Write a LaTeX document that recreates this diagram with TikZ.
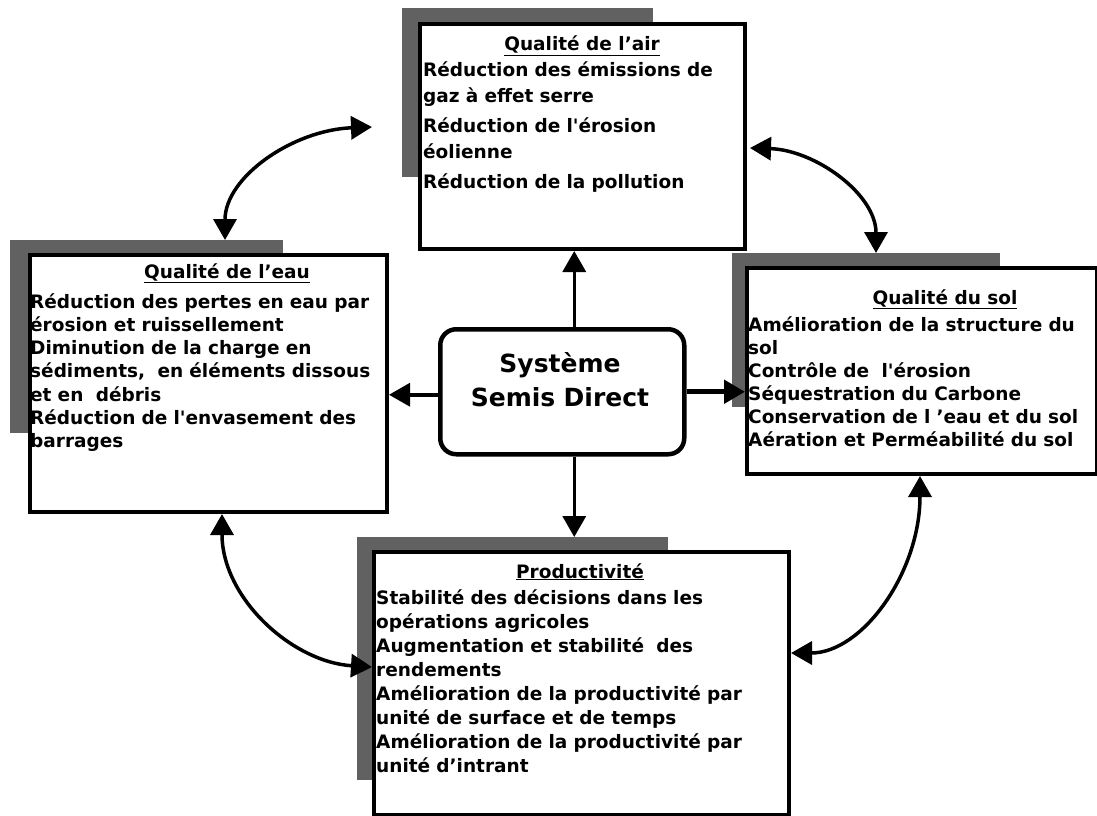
\documentclass[tikz,border=0pt]{standalone}
\usepackage{fontspec}
\setmainfont{DejaVu Sans}[Ligatures=TeXOff]
\usetikzlibrary{arrows.meta,calc}
\begin{document}
\begin{tikzpicture}[x=1pt,y=-1pt,
  shadowbox/.style={fill=black!62,anchor=north west,inner sep=0pt,outer sep=0pt},
  bigbox/.style={draw=black,line width=4pt,fill=white,anchor=north west,inner sep=0pt},
  boxtext/.style={anchor=base west,inner sep=0pt,text width=430pt,align=left,font=\bfseries\fontsize{18.5}{#1}\selectfont},
  boxtitle/.style={anchor=base,inner sep=0pt,font=\bfseries\fontsize{18.5}{22}\selectfont},
  tip/.style={Triangle[length=21pt,width=23pt]},
  link/.style={line width=3.5pt,-{Triangle[length=21pt,width=23pt]}},
  dlink/.style={line width=3.5pt,{Triangle[length=21pt,width=23pt]}-{Triangle[length=21pt,width=23pt]}},
]
\useasboundingbox (0,0) rectangle (1097,816);

% shadows
\node[shadowbox,minimum width=251pt,minimum height=169pt] (airsh) at (402,8) {};
\node[shadowbox,minimum width=273pt,minimum height=193pt] (eaush) at (10,240) {};
\node[shadowbox,minimum width=268pt,minimum height=154pt] (solsh) at (732,253) {};
\node[shadowbox,minimum width=311pt,minimum height=243pt] (prodsh) at (357,537) {};

% boxes
\node[bigbox,minimum width=325pt,minimum height=225pt] (air) at (418,22) {};
\node[bigbox,minimum width=357pt,minimum height=257pt] (eau) at (28,253) {};
\node[bigbox,minimum width=350pt,minimum height=206pt] (sol) at (745,266) {};
\node[bigbox,minimum width=415pt,minimum height=263pt] (prod) at (372,550) {};

% texts
\node[boxtitle] (airtitle) at (582,51) {\underline{Qualité de l’air}};
\node[boxtext=26pt] (airtext) at (423,76) {Réduction des émissions de\\gaz à effet serre\\[4pt]Réduction de l'érosion\\éolienne\\[4pt]Réduction de la pollution};

\node[boxtitle] (eautitle) at (227,278) {\underline{Qualité de l’eau}};
\node[boxtext=23.3pt] (eautext) at (30,308) {Réduction des pertes en eau par\\érosion et ruissellement\\Diminution de la charge en\\sédiments,\ \ en éléments dissous\\et en\ \ débris\\Réduction de l'envasement des\\barrages};

\node[boxtitle] (soltitle) at (945,304) {\underline{Qualité du sol}};
\node[boxtext=23pt] (soltext) at (748,331) {Amélioration de la structure du\\sol\\Contrôle de\ \ l'érosion\\Séquestration du Carbone\\Conservation de l ’eau et du sol\\Aération et Perméabilité du sol};

\node[boxtitle] (prodtitle) at (580,578) {\underline{Productivité}};
\node[boxtext=24.1pt] (prodtext) at (376,604) {Stabilité des décisions dans les\\opérations agricoles\\Augmentation et stabilité\ \ des\\rendements\\Amélioration de la productivité par\\unité de surface et de temps\\Amélioration de la productivité par\\unité d’intrant};

% central box
\node[draw,line width=4.5pt,rounded corners=16pt,fill=white,minimum width=244pt,minimum height=125pt,anchor=north west,inner sep=0pt] (sys) at (438,327) {};
\node[anchor=base,inner sep=0pt,text width=240pt,align=center,font=\bfseries\fontsize{25}{34}\selectfont] (systxt) at (560,372) {Système\\Semis Direct};

% straight arrows
\draw[link] ([xshift=12pt]sys.north) -- ([xshift=12pt]sys.north |- air.south);
\draw[link] ([xshift=12pt]sys.south) -- ([xshift=12pt]sys.south |- prodsh.north);
\draw[link] ([yshift=-3pt]sys.west) -- ([yshift=-3pt]sys.west -| eau.east);
\draw[link,line width=5pt] (sys.east) -- (sys.east -| sol.west);

% curved double arrows
\coordinate (airin) at (372,127);
\coordinate (airout) at (750,148);
\draw[dlink] ($(eaush.north west)+(215,0)$) .. controls (225,177) and (293,130) .. (airin);
\draw[dlink] (airout) .. controls (815,150) and (876,194) .. ($(solsh.north west)+(144,0)$);
\draw[dlink] ($(sol.south west)+(175,0)$) .. controls (920,573) and (862,653) .. ($(prod.north east)+(0,103)$);
\draw[dlink] ($(eau.south west)+(194,0)$) .. controls (222,598) and (292,662) .. ($(prod.north west)+(0,117)$);
\end{tikzpicture}
\end{document}
